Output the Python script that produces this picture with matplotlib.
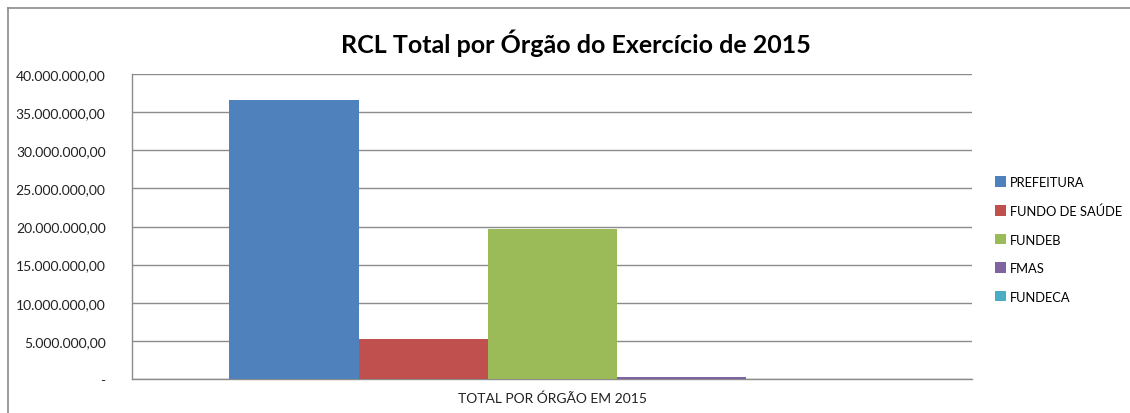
import matplotlib
matplotlib.use("Agg")
import matplotlib.pyplot as plt
from matplotlib.lines import Line2D
from matplotlib.patches import Patch

categories = ["TOTAL POR ÓRGÃO EM 2015"]
series_names = ["PREFEITURA", "FUNDO DE SAÚDE", "FUNDEB", "FMAS", "FUNDECA"]
series_values = [36_600_000, 5_250_000, 19_700_000, 280_000, 0]
colors = ["#4F81BD", "#C0504D", "#9BBB59", "#8064A2", "#4BACC6"]
yticks = [0, 5_000_000, 10_000_000, 15_000_000, 20_000_000, 25_000_000,
          30_000_000, 35_000_000, 40_000_000]

def br_fmt(v):
    if v == 0:
        return "-"
    s = f"{v:,.2f}"
    return s.replace(",", "X").replace(".", ",").replace("X", ".")

plt.rcParams['font.family'] = ['Lato', 'DejaVu Sans']

W, H = 1130, 414
fig = plt.figure(figsize=(W / 100, H / 100), dpi=100)
fig.patch.set_facecolor("white")

ax = fig.add_axes([132 / W, 1 - 380 / H, (972 - 132) / W, (380 - 75) / H])
n = len(series_names)
bw = 129 / 840
for i, (name, val, col) in enumerate(zip(series_names, series_values, colors)):
    ax.bar(0 + (i - (n - 1) / 2) * bw, val, width=bw, color=col, label=name,
           zorder=3, linewidth=0)

ax.set_xlim(-0.5, 0.5)
ax.set_ylim(0, 40_000_000)
ax.set_yticks(yticks)
ax.set_yticklabels([br_fmt(v) for v in yticks], fontsize=10, color="#222222")
ax.set_xticks([0])
ax.set_xticklabels(categories, fontsize=10, color="#222222")
ax.tick_params(axis="y", length=0, pad=19)
ax.tick_params(axis="x", length=0, pad=9)
ax.yaxis.grid(True, color="#8c8c8c", linewidth=1.0, zorder=0)
ax.set_axisbelow(True)
for s in ["top", "right"]:
    ax.spines[s].set_visible(False)
for s in ["left", "bottom"]:
    ax.spines[s].set_color("#8c8c8c")
    ax.spines[s].set_linewidth(1.0)

fig.text(576 / W, 1 - 43 / H, "RCL Total por Órgão do Exercício de 2015",
         ha="center", va="center", fontsize=18, fontweight="bold", color="black")

handles = [Patch(facecolor=c, edgecolor="none", label=nm)
           for nm, c in zip(series_names, colors)]
fig.legend(handles=handles, loc="upper left",
           bbox_to_anchor=(995 / W, 1 - 177 / H), frameon=False, fontsize=9.3,
           handlelength=0.85, handleheight=0.85, handletextpad=0.3,
           labelspacing=1.28, borderpad=0, borderaxespad=0)

# outer chart border (top and left)
fig.add_artist(Line2D([8 / W, 1], [1 - 9 / H, 1 - 9 / H], color="#8a8a8a",
                      linewidth=1.2, transform=fig.transFigure))
fig.add_artist(Line2D([8 / W, 8 / W], [0, 1 - 9 / H], color="#8a8a8a",
                      linewidth=1.2, transform=fig.transFigure))

fig.savefig("out.png", dpi=100)
